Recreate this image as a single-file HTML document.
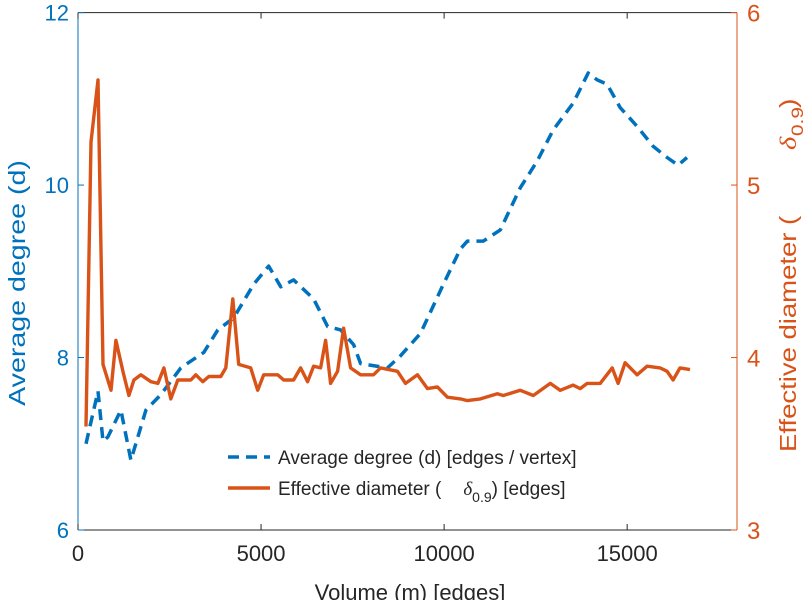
<!DOCTYPE html>
<html><head><meta charset="utf-8"><style>
html,body{margin:0;padding:0;background:#fff;}
svg{display:block;font-family:"Liberation Sans",sans-serif;}
</style></head><body>
<svg id="chart" width="812" height="600" viewBox="0 0 812 600" xmlns="http://www.w3.org/2000/svg">
<g id="axes"></g>
<g id="series"></g>
<g id="legend">
  <line x1="228" y1="457" x2="270" y2="457" stroke="#0072BD" stroke-width="3.5" stroke-dasharray="11,7"/>
  <text x="278" y="464" font-size="19" fill="#262626">Average degree (d) [edges / vertex]</text>
  <line x1="228" y1="488" x2="270" y2="488" stroke="#D95319" stroke-width="3.5"/>
  <text x="278" y="495" font-size="19" fill="#262626">Effective diameter (<tspan dx="22" font-family="Liberation Serif" font-style="italic">δ</tspan><tspan font-size="14" dy="7">0.9</tspan><tspan dy="-7">) [edges]</tspan></text>
</g>
<text x="410" y="600" font-size="22" fill="#262626" text-anchor="middle">Volume (m) [edges]</text>
<text transform="translate(25,283) rotate(-90) scale(1.3,1.05)" font-size="22" fill="#0072BD" text-anchor="middle">Average degree (d)</text>
<g fill="#D95319">
  <text transform="translate(796,452) rotate(-90) scale(1.25,1.05)" font-size="22">Effective diameter (</text>
  <text transform="translate(796,150) rotate(-90) scale(1.3,1.05)" font-size="22" font-family="Liberation Serif" font-style="italic">δ</text>
  <text transform="translate(803,136) rotate(-90) scale(1.3,1.05)" font-size="16">0.9</text>
  <text transform="translate(796,108) rotate(-90) scale(1.3,1.05)" font-size="22">)</text>
</g>
</svg>
<script>
const xTicks = [0, 5000, 10000, 15000];
const leftTicks = [6, 8, 10, 12];
const rightTicks = [3, 4, 5, 6];
const degreeX = [218,545,682,818,1173,1445,1854,2263,2808,3436,3818,4254,4800,5209,5536,5890,6436,6818,7172,7527,7718,8454,8808,9354,9981,10445,10636,11072,11536,12081,12545,12981,13526,13935,14181,14453,14808,15272,15708,16090,16390,16635];
const degreeY = [7.00,7.61,7.03,7.08,7.39,6.81,7.39,7.57,7.88,8.06,8.32,8.46,8.85,9.06,8.82,8.90,8.68,8.36,8.32,8.15,7.93,7.88,8.02,8.28,8.85,9.26,9.35,9.35,9.48,9.97,10.28,10.64,10.95,11.30,11.22,11.17,10.90,10.68,10.45,10.32,10.23,10.32];
const diamX = [218,355,545,682,900,1036,1227,1391,1527,1718,1991,2182,2345,2536,2727,3082,3218,3409,3572,3900,4036,4227,4390,4718,4909,5072,5454,5618,5890,6081,6272,6436,6627,6763,6900,7090,7254,7445,7718,8072,8263,8727,8945,9272,9545,9818,10090,10445,10636,10990,11454,11617,12081,12436,12900,13172,13526,13717,13908,14263,14590,14753,14944,15272,15545,15899,16090,16254,16444,16717];
const diamY = [3.60,5.25,5.61,3.96,3.81,4.10,3.92,3.78,3.87,3.90,3.86,3.85,3.94,3.76,3.87,3.87,3.90,3.86,3.89,3.89,3.94,4.34,3.96,3.94,3.81,3.90,3.90,3.87,3.87,3.94,3.86,3.95,3.94,4.10,3.85,3.92,4.17,3.94,3.90,3.90,3.94,3.92,3.85,3.90,3.82,3.83,3.77,3.76,3.75,3.76,3.79,3.78,3.81,3.78,3.85,3.81,3.84,3.82,3.85,3.85,3.94,3.85,3.97,3.90,3.95,3.94,3.92,3.87,3.94,3.93];

const X0=78, X1=737, Y0=530, Y1=12.6;
const sx = v => X0 + v/18000*(X1-X0);
const syL = v => Y0 - (v-6)/6*(Y0-Y1);
const syR = v => Y0 - (v-3)/3*(Y0-Y1);
const NS='http://www.w3.org/2000/svg';
function mk(tag, attrs, parent, txt){
  const e=document.createElementNS(NS,tag);
  for(const k in attrs) e.setAttribute(k,attrs[k]);
  if(txt!==undefined) e.textContent=txt;
  parent.appendChild(e); return e;
}
const axes=document.getElementById('axes');
const series=document.getElementById('series');
let e;
e=mk('line',{x1:X0,y1:Y1,x2:X1,y2:Y1,stroke:'#262626','stroke-width':1},axes);


e=mk('line',{x1:X0,y1:Y0,x2:X1,y2:Y0,stroke:'#262626','stroke-width':1},axes);


e=mk('line',{x1:X0,y1:Y1,x2:X0,y2:Y0,stroke:'#0072BD','stroke-width':1},axes);


e=mk('line',{x1:X1,y1:Y1,x2:X1,y2:Y0,stroke:'#D95319','stroke-width':1},axes);


xTicks.forEach(t=>{
  const x=sx(t);
  e=mk('line',{x1:x,y1:Y0,x2:x,y2:Y0-6,stroke:'#262626'},axes);
  
  
  e=mk('line',{x1:x,y1:Y1,x2:x,y2:Y1+6,stroke:'#262626'},axes);
  
  
  e=mk('text',{x:x,y:Y0+31,'font-size':22,fill:'#262626','text-anchor':'middle'},axes,String(t));
  
  
});
leftTicks.forEach(t=>{
  const y=syL(t);
  e=mk('line',{x1:X0,y1:y,x2:X0+6,y2:y,stroke:'#0072BD'},axes);
  
  
  e=mk('text',{x:X0-9,y:y+8,'font-size':22,fill:'#0072BD','text-anchor':'end'},axes,String(t));
  
  
});
rightTicks.forEach(t=>{
  const y=syR(t);
  e=mk('line',{x1:X1,y1:y,x2:X1-6,y2:y,stroke:'#D95319'},axes);
  
  
  e=mk('text',{x:X1+10,y:y+9,'font-size':24,fill:'#D95319'},axes,String(t));
  
  
});
const dPts=degreeX.map((x,i)=>sx(x).toFixed(1)+','+syL(degreeY[i]).toFixed(1)).join(' ');
e=mk('polyline',{points:dPts,fill:'none',stroke:'#0072BD','stroke-width':3.5,'stroke-dasharray':'11,7','stroke-linejoin':'round'},series);


const ePts=diamX.map((x,i)=>sx(x).toFixed(1)+','+syR(diamY[i]).toFixed(1)).join(' ');
e=mk('polyline',{points:ePts,fill:'none',stroke:'#D95319','stroke-width':3.4,'stroke-linejoin':'round'},series);


</script>
</body></html>
